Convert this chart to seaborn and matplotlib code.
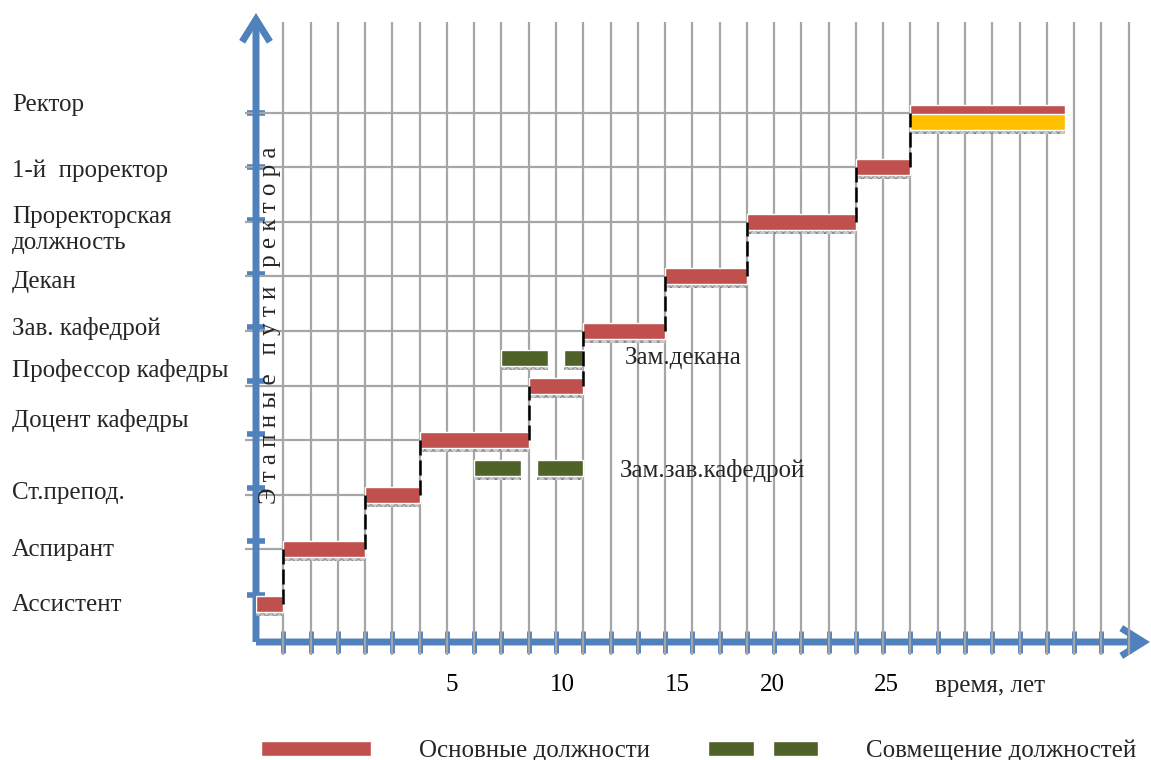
import numpy as np
import matplotlib
matplotlib.use("Agg")
import matplotlib.pyplot as plt
import seaborn as sns
from matplotlib.patches import Patch
from matplotlib.legend_handler import HandlerTuple
from matplotlib.transforms import ScaledTranslation

# ---------------- data ----------------
positions = ["Ассистент", "Аспирант", "Ст.препод.", "Доцент кафедры",
             "Профессор кафедры", "Зав. кафедрой", "Декан",
             "Проректорская\nдолжность", "1-й  проректор", "Ректор"]
start_years = [0, 1, 4, 6, 10, 12, 15, 18, 22, 24]
end_years = [1, 4, 6, 10, 12, 15, 18, 22, 24, 29.65]

deputy_names = ["Зам.зав.кафедрой", "Зам.декана"]
deputy_levels = [2.5, 4.5]
deputy_starts = [[8, 10.3], [9, 11.3]]
deputy_ends = [[9.7, 12], [10.7, 12]]

x_tick_pos = [7.19, 11.22, 15.44, 18.92, 23.1]
x_tick_labels = ["5", "10", "15", "20", "25"]
x_title = "время, лет"
y_title = "Э т а п н ы е   п у т и   р е к т о р а"
legend_labels = ["Основные должности", "Совмещение должностей"]

# ---------------- style ----------------
sns.set_theme(style="white")
plt.rcParams["font.family"] = ["Liberation Serif", "DejaVu Serif"]
plt.rcParams["hatch.linewidth"] = 0.6

RED = "#C0504D"
GREEN = "#4F6228"
YELLOW = "#FFC000"
BLUE = "#4F81BD"
GRID = "#A6A6A6"
SHADOW_FC = "#C8C8C8"
SHADOW_EC = "#7F7F7F"
FS = 18

W, H = 1151, 760
X0, Y0 = 256, 642       # pixel position of the axes origin
XS, YS, L0 = 27.27, 54.6, 604

fig = plt.figure(figsize=(W / 100, H / 100), dpi=100)
ax = fig.add_axes([X0 / W, (H - Y0) / H, (W - X0) / W, Y0 / H])


def lvl(py):
    return (L0 - py) / YS


def xx(px):
    return (px - X0) / XS


ax.set_xlim(0, (W - X0) / XS)
ax.set_ylim(lvl(Y0), lvl(0))
for s in ax.spines.values():
    s.set_visible(False)
ax.set_axisbelow(True)

levels = np.arange(len(positions))
widths = np.array(end_years) - np.array(start_years)
bh = 16 / YS
sh = 4 / YS

# grid
ax.vlines(np.arange(1, 33), lvl(655), lvl(22), color=GRID, lw=1.6,
          zorder=1, clip_on=False)
ax.hlines(levels[1:], xx(245), np.array(start_years)[1:], color=GRID, lw=1.6,
          zorder=0.7, clip_on=False)

# main positions
ax.barh(levels - sh, widths, left=start_years, height=bh, color=SHADOW_FC,
        hatch="xxxx", edgecolor=SHADOW_EC, linewidth=0, zorder=2)
ax.barh(levels, widths, left=start_years, height=bh, color=RED, zorder=3)
# rector highlight
ax.barh([lvl(122) - sh], [widths[-1]], left=[start_years[-1]], height=bh,
        color=SHADOW_FC, hatch="xxxx", edgecolor=SHADOW_EC, linewidth=0, zorder=2)
ax.barh([lvl(122)], [widths[-1]], left=[start_years[-1]], height=bh,
        color=YELLOW, zorder=3.5)

# connectors
for i in range(len(positions) - 1):
    ax.vlines(end_years[i], levels[i], levels[i + 1], color="black", lw=1.8,
              linestyles=(0, (6, 2)), zorder=4)

# combined positions
for name, lv, ss, ee in zip(deputy_names, deputy_levels, deputy_starts, deputy_ends):
    w = np.array(ee) - np.array(ss)
    ax.barh([lv - sh] * len(ss), w, left=ss, height=bh, color=SHADOW_FC,
            hatch="xxxx", edgecolor=SHADOW_EC, linewidth=0, zorder=2)
    ax.barh([lv] * len(ss), w, left=ss, height=bh, color=GREEN, zorder=3)

ax.text(xx(620), lvl(470), deputy_names[0], ha="left", va="center", fontsize=FS)
ax.text(xx(625), lvl(358), deputy_names[1], ha="left", va="center", fontsize=FS)

# axes arrows
arrow_kw = dict(arrowstyle="->,head_length=0.8,head_width=0.5", lw=5,
                color=BLUE, mutation_scale=20, shrinkA=0, shrinkB=0,
                capstyle="butt", joinstyle="miter")
ax.annotate("", xy=(0, lvl(13)), xytext=(0, lvl(Y0)), arrowprops=arrow_kw,
            annotation_clip=False, zorder=0.8)
ax.annotate("", xy=(xx(1150), lvl(Y0)), xytext=(0, lvl(Y0)), arrowprops=arrow_kw,
            annotation_clip=False, zorder=0.8)

# ticks
ax.set_yticks(np.linspace(lvl(595), lvl(113), len(positions)))
ax.set_yticklabels([])
ax.tick_params(axis="y", left=True, direction="inout", length=13, width=4,
               color=BLUE)
ax.set_xticks(np.arange(1, 33), minor=True)
ax.tick_params(axis="x", which="minor", bottom=True, direction="inout",
               length=16, width=3.5, color=BLUE)
ax.set_xticks(x_tick_pos, x_tick_labels)
ax.tick_params(axis="x", which="major", bottom=True, length=0, pad=23,
               labelsize=FS, labelcolor="black")

ax.set_xlabel(x_title, fontsize=FS, va="center")
ax.xaxis.set_label_coords((990 - X0) / (W - X0), -(686 - Y0) / Y0)

# category labels on the left
label_dy = [1, 1, -2, -20, -15, -3, 6, 8, 4, -8]
for i, (name, dy) in enumerate(zip(positions, label_dy)):
    tr = ax.transData + ScaledTranslation(0, -dy / 100, fig.dpi_scale_trans)
    ax.text(xx(12), i, name, ha="left", va="center", fontsize=FS,
            transform=tr, clip_on=False, linespacing=1.25)

ax.text(xx(270), lvl(325), y_title, rotation=90, ha="center", va="center",
        fontsize=FS)

# legend
h1 = Patch(facecolor=RED)
h2 = (Patch(facecolor=GREEN), Patch(facecolor=GREEN))
fig.legend([h1, h2], legend_labels, handler_map={tuple: HandlerTuple(ndivide=None, pad=0.76)},
           ncol=2, loc="center", bbox_to_anchor=(0.607, 0.0118), frameon=False,
           handlelength=4.4, handleheight=0.6, handletextpad=1.9,
           columnspacing=2.35, fontsize=FS)

fig.savefig("out.png", dpi=100)
